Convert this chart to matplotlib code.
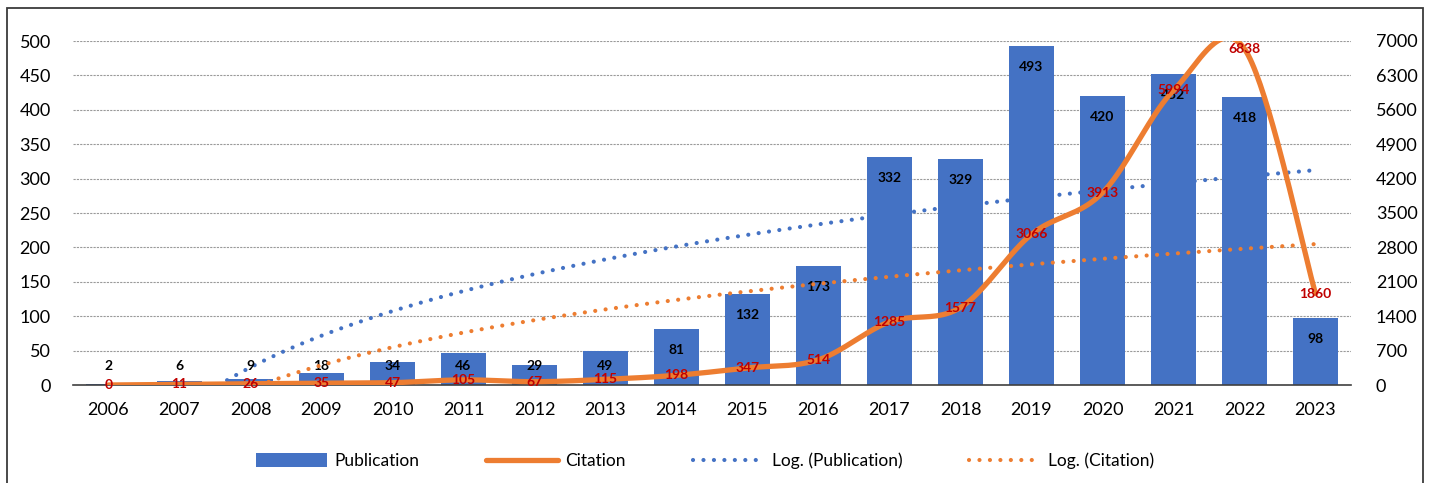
import numpy as np
import matplotlib
matplotlib.use("Agg")
import matplotlib.pyplot as plt
from matplotlib.lines import Line2D
from matplotlib.patches import Patch, Rectangle

# ---- data ----
years = ["2006", "2007", "2008", "2009", "2010", "2011", "2012", "2013", "2014",
         "2015", "2016", "2017", "2018", "2019", "2020", "2021", "2022", "2023"]
publications = [2, 6, 9, 18, 34, 46, 29, 49, 81, 132, 173, 332, 329, 493, 420, 452, 418, 98]
citations = [0, 11, 26, 35, 47, 105, 67, 115, 198, 347, 514, 1285, 1577, 3066, 3913, 5994, 6838, 1860]
left_ticks = [0, 50, 100, 150, 200, 250, 300, 350, 400, 450, 500]
right_ticks = [0, 700, 1400, 2100, 2800, 3500, 4200, 4900, 5600, 6300, 7000]

BLUE = "#4472C4"
ORANGE = "#ED7D31"
RED = "#C00000"
FONT = "Lato"

plt.rcParams["font.family"] = [FONT, "DejaVu Sans"]


def smooth_curve(y, steps=40):
    """Catmull-Rom spline through equally spaced points (as Bezier segments)."""
    y = np.asarray(y, dtype=float)
    x = np.arange(len(y), dtype=float)
    xs, ys = [], []
    n = len(y)
    for i in range(n - 1):
        p0 = (x[max(i - 1, 0)], y[max(i - 1, 0)])
        p1 = (x[i], y[i])
        p2 = (x[i + 1], y[i + 1])
        p3 = (x[min(i + 2, n - 1)], y[min(i + 2, n - 1)])
        c1 = (p1[0] + (p2[0] - p0[0]) / 6, p1[1] + (p2[1] - p0[1]) / 6)
        c2 = (p2[0] - (p3[0] - p1[0]) / 6, p2[1] - (p3[1] - p1[1]) / 6)
        t = np.linspace(0, 1, steps, endpoint=(i == n - 2))
        b0 = (1 - t) ** 3
        b1 = 3 * (1 - t) ** 2 * t
        b2 = 3 * (1 - t) * t ** 2
        b3 = t ** 3
        xs.append(b0 * p1[0] + b1 * c1[0] + b2 * c2[0] + b3 * p2[0])
        ys.append(b0 * p1[1] + b1 * c1[1] + b2 * c2[1] + b3 * p2[1])
    return np.concatenate(xs), np.concatenate(ys)


def log_trend(values):
    """Least-squares fit y = a*ln(k) + b with k = 1..n."""
    k = np.arange(1, len(values) + 1, dtype=float)
    a, b = np.polyfit(np.log(k), np.asarray(values, dtype=float), 1)
    kk = np.linspace(1, len(values), 400)
    return kk - 1, a * np.log(kk) + b


fig = plt.figure(figsize=(14.29, 4.83), dpi=100)
ax = fig.add_axes([73 / 1429, 1 - 385 / 483, (1351 - 73) / 1429, 344 / 483])
ax2 = ax.twinx()

x = np.arange(len(years))

# bars
ax.bar(x, publications, width=0.63, color=BLUE, zorder=2)
ax.set_xlim(-0.5, len(years) - 0.5)
ax.set_ylim(0, 500)
ax.set_yticks(left_ticks)
ax.set_xticks(x)
ax.set_xticklabels(years)
ax.yaxis.grid(True, linestyle=(0, (2, 1)), color="#9a9a9a", linewidth=0.8, zorder=0)
ax.set_axisbelow(True)
for s in ["top", "right", "left"]:
    ax.spines[s].set_visible(False)
ax.spines["bottom"].set_color("#404040")
ax.spines["bottom"].set_linewidth(1.2)
ax.tick_params(axis="both", length=0, labelsize=13)
ax.tick_params(axis="x", pad=12)
ax.tick_params(axis="y", pad=16)

# publication trend
tx, ty = log_trend(publications)
ax.plot(tx, ty, color=BLUE, linewidth=3.0, linestyle=(0, (0.01, 2.5)),
        dash_capstyle="round", zorder=3)

# publication labels
for xi, v in zip(x, publications):
    ax.text(xi, max(v - 30.5, 27.6), str(v), ha="center", va="center",
            fontsize=10, fontweight="bold", color="black", zorder=6)

# citation axis
ax2.set_ylim(0, 7000)
ax2.set_yticks(right_ticks)
for s in ["top", "right", "left", "bottom"]:
    ax2.spines[s].set_visible(False)
ax2.tick_params(axis="y", length=0, labelsize=13, pad=18)

cx, cy = smooth_curve(citations)
ax2.plot(cx, cy, color=ORANGE, linewidth=3.8, solid_capstyle="round", zorder=4)

tx2, ty2 = log_trend(citations)
ax2.plot(tx2, ty2, color=ORANGE, linewidth=3.0, linestyle=(0, (0.01, 2.5)),
         dash_capstyle="round", zorder=3)

for xi, v in zip(x, citations):
    ax2.text(xi, v, str(v), ha="center", va="center", fontsize=10,
             fontweight="bold", color=RED, zorder=7)

# legend
handles = [
    Patch(facecolor=BLUE, edgecolor="none"),
    Line2D([0], [0], color=ORANGE, linewidth=3.8, solid_capstyle="round"),
    Line2D([0], [0], color=BLUE, linewidth=3.0, linestyle=(0, (0.01, 2.5)), dash_capstyle="round"),
    Line2D([0], [0], color=ORANGE, linewidth=3.0, linestyle=(0, (0.01, 2.5)), dash_capstyle="round"),
]
labels = ["Publication", "Citation", "Log. (Publication)", "Log. (Citation)"]
fig.legend(handles, labels, loc="center", bbox_to_anchor=(705 / 1429, 1 - 461 / 483),
           ncol=4, frameon=False, fontsize=12.5, handlelength=4.1, handleheight=0.85,
           columnspacing=3.85, handletextpad=0.45)

# outer frame
fig.patches.append(Rectangle((7 / 1429, -0.05), (1423 - 7) / 1429, 1.05 - 8 / 483,
                             transform=fig.transFigure, fill=False,
                             edgecolor="#3a3a3a", linewidth=1.3))

fig.savefig("out.png", dpi=100)
